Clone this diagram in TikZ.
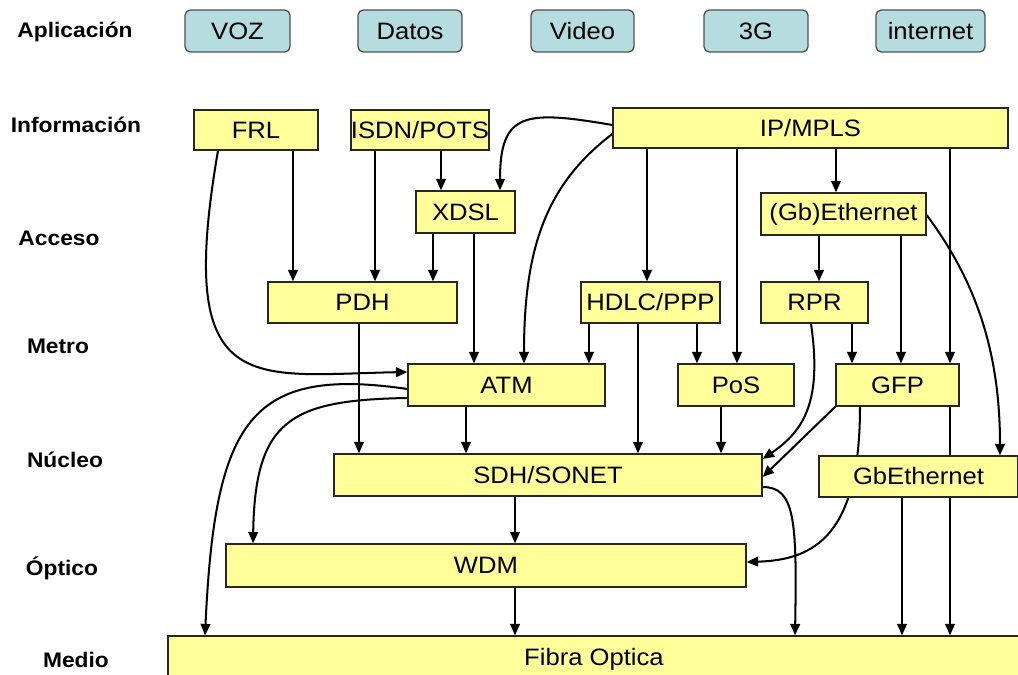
\documentclass[tikz,border=0pt]{standalone}
\usepackage{fontspec}
\setmainfont{Liberation Sans}[FakeStretch=1.08]
\usetikzlibrary{arrows.meta}
\pgfdeclarelayer{bg}
\pgfsetlayers{bg,main}
\definecolor{ybox}{HTML}{FFFF99}
\definecolor{tbox}{HTML}{B5DCDF}
\definecolor{tborder}{HTML}{505050}
\tikzset{
  yb/.style 2 args={draw=black!85, line width=0.75pt, fill=ybox, inner sep=0pt,
    minimum width=#1*0.02cm, minimum height=#2*0.02cm,
    font=\fontsize{13.5}{15}\selectfont},
  tb/.style={draw=tborder, line width=0.75pt, fill=tbox, rounded corners=3pt, inner sep=0pt,
    minimum width=#1*0.02cm, minimum height=0.84cm,
    font=\fontsize{13.5}{15}\selectfont},
  lbl/.style={inner sep=0pt, font=\fontsize{12}{14}\selectfont\bfseries},
  arr/.style={line width=1.15pt, -{Triangle[length=6.5pt,width=5.5pt]}},
}
\begin{document}
\begin{tikzpicture}[x=0.02cm, y=-0.02cm]
\useasboundingbox (0,0) rectangle (1018,675);
% layer labels
\node[lbl] (lApl) at (75,32) {Aplicación};
\node[lbl] (lInf) at (76,125) {Información};
\node[lbl] (lAcc) at (59,238) {Acceso};
\node[lbl] (lMet) at (58,346) {Metro};
\node[lbl] (lNuc) at (65,460) {Núcleo};
\node[lbl] (lOpt) at (62,568) {Óptico};
\node[lbl] (lMed) at (76,660) {Medio};
% application boxes
\node[tb=105] (voz) at (237.5,31) {VOZ};
\node[tb=104] (datos) at (410,31) {Datos};
\node[tb=103] (video) at (582.5,31) {Video};
\node[tb=104] (tresg) at (756,31) {3G};
\node[tb=109] (inet) at (930.5,31) {internet};
% yellow boxes
\node[yb={124}{40}] (FRL) at (256,130) {FRL};
\node[yb={138}{40}] (ISDN) at (420,130) {ISDN/POTS};
\node[yb={395}{40}] (IP) at (810.5,128) {IP/MPLS};
\node[yb={99}{42}] (XDSL) at (465.5,212) {XDSL};
\node[yb={165}{42}] (GbE1) at (843.5,214) {(Gb)Ethernet};
\node[yb={189}{41}] (PDH) at (362.5,302.5) {PDH};
\node[yb={139}{41}] (HDLC) at (650.5,302.5) {HDLC/PPP};
\node[yb={107}{41}] (RPR) at (814.5,302.5) {RPR};
\node[yb={197}{42}] (ATM) at (506.5,385) {ATM};
\node[yb={116}{42}] (PoS) at (736,385) {PoS};
\node[yb={123}{42}] (GFP) at (897.5,385) {GFP};
\node[yb={428}{42}] (SDH) at (548,475) {SDH/SONET};
\node[yb={199}{41}] (GbE2) at (918.5,476.5) {GbEthernet};
\node[yb={520}{43}] (WDM) at (486,565.5) {WDM};
\node[yb={852}{46}] (Fibra) at (594,659) {Fibra Optica};
% connectors
\begin{pgfonlayer}{bg}
\draw[arr] (FRL.south -| 293,0) -- (PDH.north -| 293,0);
\draw[arr] (ISDN.south -| 375,0) -- (PDH.north -| 375,0);
\draw[arr] (ISDN.south -| 441,0) -- (XDSL.north -| 441,0);
\draw[arr] (XDSL.south -| 433,0) -- (PDH.north -| 433,0);
\draw[arr] (XDSL.south -| 474,0) -- (ATM.north -| 474,0);
\draw[arr] (IP.west |- 0,125) .. controls (525,110) and (500,112) .. (XDSL.north -| 500,0);
\draw[arr] (IP.west |- 0,134) .. controls (545,185) and (524,250) .. (ATM.north -| 524,0);
\draw[arr] (HDLC.south -| 589,0) -- (ATM.north -| 589,0);
\draw[arr] (IP.south -| 647,0) -- (HDLC.north -| 647,0);
\draw[arr] (IP.south -| 737,0) -- (PoS.north -| 737,0);
\draw[arr] (HDLC.south -| 697,0) -- (PoS.north -| 697,0);
\draw[arr] (HDLC.south -| 638,0) -- (SDH.north -| 638,0);
\draw[arr] (IP.south -| 836,0) -- (GbE1.north -| 836,0);
\draw[arr] (GbE1.south -| 819,0) -- (RPR.north -| 819,0);
\draw[arr] (GbE1.south -| 901,0) -- (GFP.north -| 901,0);
\draw[arr] (IP.south -| 950,0) -- (GFP.north -| 950,0);
\draw[arr] (GFP.south -| 950,0) -- (Fibra.north -| 950,0);
\draw[arr] (GFP.south -| 860,0) .. controls (860,535) and (815,560) .. (WDM.east |- 0,562);
\draw[arr] (GbE2.south -| 902,0) -- (Fibra.north -| 902,0);
\draw[arr] (RPR.south -| 852,0) -- (GFP.north -| 852,0);
\draw[arr] (RPR.south -| 811,0) .. controls (822,400) and (805,430) .. (SDH.east |- 0,459);
\draw[arr] (GFP.south west) -- (SDH.east |- 0,477);
\draw[arr] (GbE1.east |- 0,215) .. controls (975,280) and (1000,350) .. (GbE2.north -| 1000,0);
\draw[arr] (PoS.south -| 721,0) -- (SDH.north -| 721,0);
\draw[arr] (ATM.south -| 466,0) -- (SDH.north -| 466,0);
\draw[arr] (PDH.south -| 359,0) -- (SDH.north -| 359,0);
\draw[arr] (FRL.south -| 218,0) .. controls (175,400) and (250,375) .. (ATM.west |- 0,372);
\draw[arr] (ATM.west |- 0,389) .. controls (250,366) and (215,420) .. (Fibra.north -| 205,0);
\draw[arr] (ATM.west |- 0,398) .. controls (290,400) and (255,420) .. (WDM.north -| 253,0);
\draw[arr] (SDH.south -| 515,0) -- (WDM.north -| 515,0);
\draw[arr] (SDH.east |- 0,487) .. controls (795,487) and (797,520) .. (Fibra.north -| 795,0);
\draw[arr] (WDM.south -| 515,0) -- (Fibra.north -| 515,0);
\end{pgfonlayer}
\end{tikzpicture}
\end{document}
